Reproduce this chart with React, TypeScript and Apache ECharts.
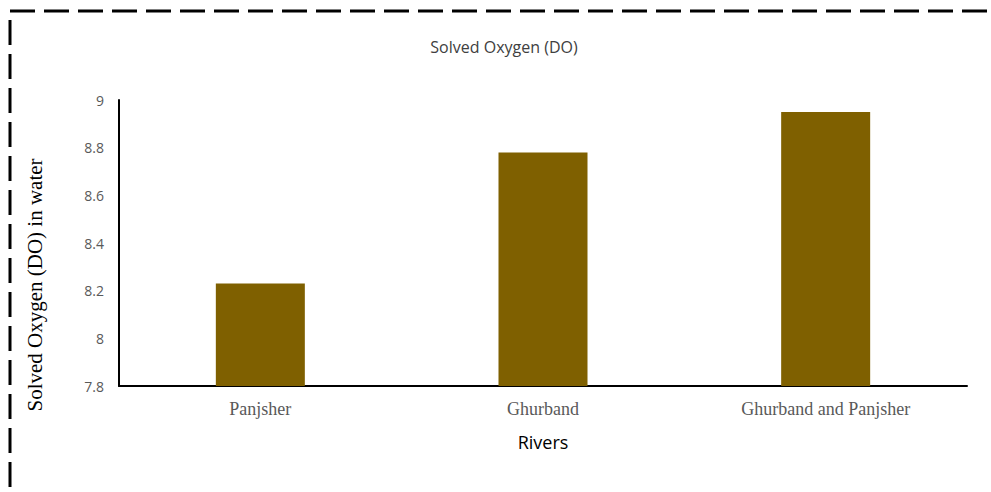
import React, { useEffect, useRef } from "react";
import * as echarts from "echarts";

const rivers = ["Panjsher", "Ghurband", "Ghurband and Panjsher"];
const doValues = [8.23, 8.78, 8.95];
const yTicks = { min: 7.8, max: 9, step: 0.2 };

export default function App() {
  const ref = useRef<HTMLDivElement>(null);

  useEffect(() => {
    if (!ref.current) return;
    const chart = echarts.init(ref.current, null, { renderer: "svg" });
    chart.setOption({
      animation: false,
      backgroundColor: "#ffffff",
      title: {
        text: "Solved Oxygen (DO)",
        left: 499,
        top: 34,
        textAlign: "center",
        textStyle: {
          fontFamily: "Open Sans",
          fontSize: 16,
          fontWeight: "normal",
          color: "#404040",
        },
      },
      grid: { left: 119, right: 24, top: 100, bottom: 106 },
      xAxis: {
        type: "category",
        data: rivers,
        name: "Rivers",
        nameLocation: "middle",
        nameGap: 47,
        nameTextStyle: {
          fontFamily: "Open Sans",
          fontSize: 18,
          color: "#000000",
        },
        axisLine: { lineStyle: { color: "#000000", width: 2 } },
        axisTick: { show: false },
        axisLabel: {
          margin: 14,
          fontFamily: "Liberation Serif",
          fontSize: 18,
          color: "#595959",
        },
      },
      yAxis: {
        type: "value",
        min: yTicks.min,
        max: yTicks.max,
        interval: yTicks.step,
        axisLine: { show: true, lineStyle: { color: "#000000", width: 2 } },
        axisTick: { show: false },
        splitLine: { show: false },
        axisLabel: {
          margin: 15,
          fontFamily: "Open Sans",
          fontSize: 14,
          color: "#595959",
          formatter: (v: number) => String(+v.toFixed(1)),
        },
      },
      series: [
        {
          type: "bar",
          data: doValues,
          barWidth: 89,
          itemStyle: { color: "#7F6000" },
        },
      ],
      graphic: [
        {
          type: "text",
          x: 35,
          y: 285,
          rotation: Math.PI / 2,
          style: {
            text: "Solved Oxygen (DO) in water",
            font: '21px "Liberation Serif"',
            fill: "#000000",
            align: "center",
            verticalAlign: "middle",
          },
        },
        {
          type: "rect",
          shape: { x: 10, y: 11, width: 1100, height: 600 },
          style: {
            fill: "none",
            stroke: "#000000",
            lineWidth: 3,
            lineDash: [25, 9],
          },
        },
      ],
    });
    return () => chart.dispose();
  }, []);

  return (
    <div
      ref={ref}
      style={{ position: "fixed", left: 0, top: 0, width: 991, height: 492 }}
    />
  );
}
